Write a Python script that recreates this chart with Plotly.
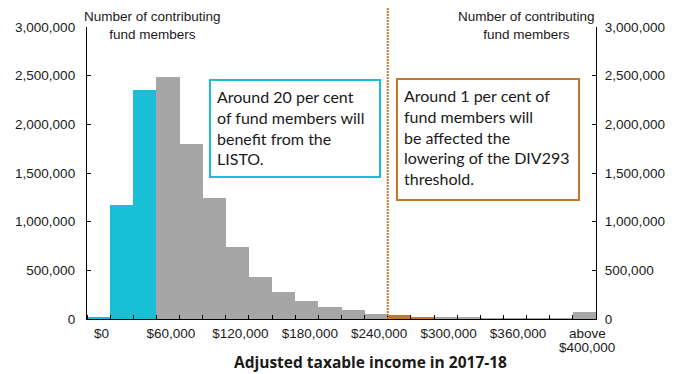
import plotly.graph_objects as go

# Income bands ($20,000 wide) and number of contributing fund members in each
income_bands = [
    "$0", "$20,000", "$40,000", "$60,000", "$80,000", "$100,000", "$120,000",
    "$140,000", "$160,000", "$180,000", "$200,000", "$220,000", "$240,000",
    "$260,000", "$280,000", "$300,000", "$320,000", "$340,000", "$360,000",
    "$380,000", "$400,000", "above $400,000",
]
members = [
    20000, 1170000, 2350000, 2490000, 1800000, 1240000, 740000,
    430000, 275000, 180000, 127000, 88000, 55000,
    37000, 23000, 13000, 13000, 2000, 2000,
    2000, 2000, 75000,
]
# Which policy each band is affected by
band_group = (["LISTO"] * 3 + ["none"] * 10 + ["DIV293"] * 2 + ["none"] * 7)

# Labelled bands on the x axis
label_positions = [0, 3, 6, 9, 12, 15, 18, 21]
label_text = ["$0", "$60,000", "$120,000", "$180,000", "$240,000",
              "$300,000", "$360,000", "above"]
top_band_second_line = "$400,000"

y_ticks = [0, 500000, 1000000, 1500000, 2000000, 2500000, 3000000]
div293_threshold_band = "$240,000"

CYAN = "#19BFD7"
GREY = "#A6A6A6"
ORANGE = "#C2772C"
group_colours = {"LISTO": CYAN, "none": GREY, "DIV293": ORANGE}

x_pos = list(range(len(income_bands)))

fig = go.Figure()
fig.add_trace(go.Bar(
    x=x_pos, y=members,
    marker=dict(color=[group_colours[g] for g in band_group], line=dict(width=0)),
    customdata=income_bands,
    hovertemplate="%{customdata}: %{y:,}<extra></extra>",
))
# invisible copy on the right-hand axis so it is drawn
fig.add_trace(go.Bar(x=x_pos, y=members, yaxis="y2", opacity=0,
                     hoverinfo="skip", showlegend=False))

AX_FONT = dict(family="Liberation Sans, Arial, sans-serif", size=13.5, color="#1a1a1a")
BOX_FONT = dict(family="Lato, sans-serif", size=16, color="#1a1a1a")

axis_common = dict(
    range=[0, 3000000], tickvals=y_ticks, tickformat=",", ticks="inside",
    ticklen=4, tickcolor="black", showline=True, linecolor="black",
    linewidth=1.3, showgrid=False, zeroline=False, tickfont=AX_FONT,
)

fig.update_layout(
    width=684, height=374,
    margin=dict(l=87, r=88, t=27, b=55),
    plot_bgcolor="white", paper_bgcolor="white",
    showlegend=False, bargap=0, barmode="overlay",
    xaxis=dict(
        range=[-0.5, len(income_bands) - 0.5],
        tickvals=label_positions, ticktext=label_text, ticks="",
        ticklabelshift=3, ticklabelstandoff=2,
        showline=True, linecolor="black", linewidth=1.3,
        showgrid=False, zeroline=False, tickfont=AX_FONT,
        minor=dict(tickvals=[i - 0.5 for i in range(len(income_bands) + 1)],
                   ticks="inside", ticklen=4, tickcolor="black", showgrid=False),
    ),
    yaxis=dict(**axis_common, ticklabelstandoff=8),
    yaxis2=dict(**axis_common, overlaying="y", side="right", ticklabelstandoff=5),
)

# second line of the last band's label, set tight under "above"
fig.add_annotation(xref="x", yref="paper", x=label_positions[-1], y=-0.099,
                   xshift=3, xanchor="center", yanchor="middle",
                   text=top_band_second_line, showarrow=False, font=AX_FONT)

# DIV293 threshold marker at the upper edge of the $240,000 band
threshold_x = income_bands.index(div293_threshold_band) + 0.5
fig.add_shape(type="line", xref="x", yref="paper",
              x0=threshold_x, x1=threshold_x, y0=0, y1=1.065,
              line=dict(color=ORANGE, width=2, dash="2px,1px"))

axis_title = "Number of contributing<br>fund members"
fig.add_annotation(xref="paper", yref="paper", x=0.128, y=1.068,
                   xanchor="center", yanchor="top", text=axis_title,
                   showarrow=False, align="center", font=AX_FONT)
fig.add_annotation(xref="paper", yref="paper", x=0.864, y=1.068,
                   xanchor="center", yanchor="top", text=axis_title,
                   showarrow=False, align="center", font=AX_FONT)

fig.add_annotation(xref="paper", yref="paper", x=0.556, y=-0.147,
                   xanchor="center", yanchor="middle",
                   text="<b>Adjusted taxable income in 2017-18</b>",
                   showarrow=False, borderpad=0,
                   font=dict(family="Open Sans, sans-serif", size=15.5, color="#1a1a1a"))

fig.add_annotation(xref="paper", yref="paper", x=(209 - 87) / 509, y=(319 - 79) / 292,
                   xanchor="left", yanchor="top", showarrow=False,
                   align="left", valign="top",
                   text="Around 20 per cent<br>of fund members will<br>benefit from the<br>LISTO.",
                   width=156, height=83, borderpad=6, borderwidth=2,
                   bordercolor=CYAN, bgcolor="white", font=BOX_FONT)
fig.add_annotation(xref="paper", yref="paper", x=(396 - 87) / 509, y=(319 - 78) / 292,
                   xanchor="left", yanchor="top", showarrow=False,
                   align="left", valign="top",
                   text=("Around 1 per cent of<br>fund members will<br>be affected the<br>"
                         "lowering of the DIV293<br>threshold."),
                   width=168, height=107, borderpad=6, borderwidth=2,
                   bordercolor=ORANGE, bgcolor="white", font=BOX_FONT)

fig.write_html("out.html")
